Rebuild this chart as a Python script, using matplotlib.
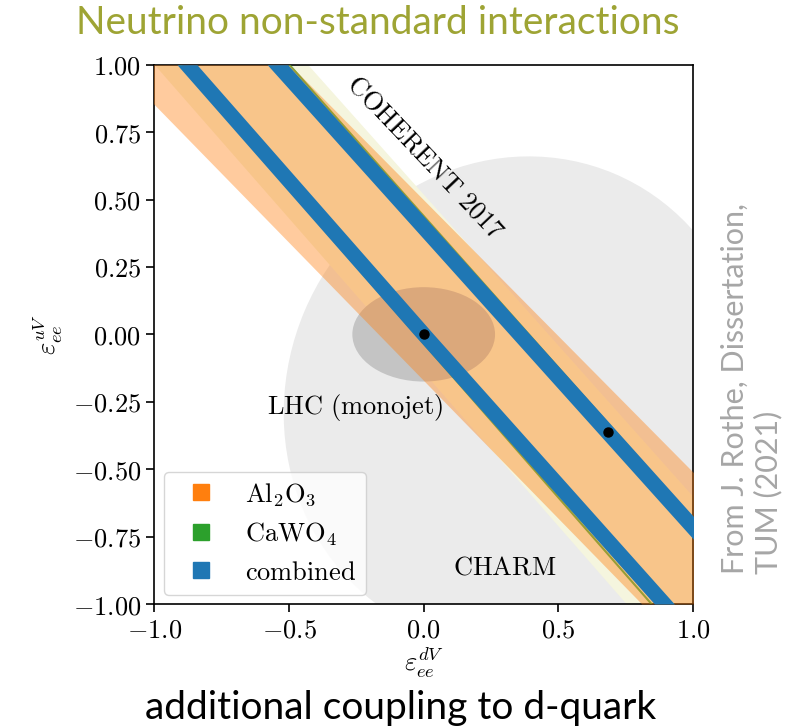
import matplotlib

matplotlib.use("Agg")
import matplotlib.pyplot as plt  # noqa: E402
from matplotlib.patches import Ellipse  # noqa: E402
from matplotlib.lines import Line2D  # noqa: E402
from matplotlib.ticker import FuncFormatter  # noqa: E402

plt.rcParams["mathtext.fontset"] = "cm"

y_band = [1.0, -1.0]
al2o3_left = [-1.145, 0.81]
al2o3_right = [-0.497, 1.485]
coherent_left = [-1.0, 0.753]
coherent_right = [-0.43, 1.356]
cawo4_left = [-0.905, 0.846]
cawo4_right = [-0.499, 1.28]

# combined: two narrow stripes
y_stripe1 = [1.0, 0.0, -1.0]
stripe1_left = [-0.916, -0.037, 0.857]
stripe1_right = [-0.842, 0.037, 0.931]
stripe2_left = [-0.581, 1.218]
stripe2_right = [-0.505, 1.294]

# best-fit points
best_x = [0.0, 0.683]
best_y = [0.0, -0.363]

# other experiments (ellipses: centre, width, height, angle)
charm_xy, charm_w, charm_h, charm_ang = (0.35, -0.25), 1.722, 1.837, -22.9
lhc_xy, lhc_w, lhc_h = (0.0, 0.0), 0.53, 0.35

x_ticks = [-1.0, -0.5, 0.0, 0.5, 1.0]
y_ticks = [-1.0, -0.75, -0.5, -0.25, 0.0, 0.25, 0.5, 0.75, 1.0]

fig = plt.figure(figsize=(7.88, 7.28), dpi=100)
ax = fig.add_axes([0.196, 0.1703, 0.6834, 0.7408])

ax.add_patch(Ellipse(charm_xy, charm_w, charm_h, angle=charm_ang,
                     color="#ebebeb", lw=0, zorder=1))
ax.fill_betweenx(y_band, coherent_left, coherent_right, color="#f5f5de",
                 lw=0, zorder=2)
ax.add_patch(Ellipse(lhc_xy, lhc_w, lhc_h, color="#c4c4c4", lw=0, zorder=3))
ax.plot(cawo4_left, y_band, color="#2ca02c", lw=1.5, alpha=0.8, zorder=3.5)
ax.plot(cawo4_right, y_band, color="#2ca02c", lw=1.5, alpha=0.8, zorder=3.5)
ax.fill_betweenx(y_band, al2o3_left, al2o3_right, color="#ff7f0e",
                 alpha=0.4, lw=0, zorder=4)
ax.fill_betweenx(y_stripe1, stripe1_left, stripe1_right, color="#1f77b4",
                 lw=0, zorder=5)
ax.fill_betweenx(y_band, stripe2_left, stripe2_right, color="#1f77b4",
                 lw=0, zorder=5)
ax.plot(best_x, best_y, "o", color="k", ms=6.5, zorder=6)

fs = 19
ax.text(0.004, 0.657, r"$\mathrm{COHERENT\ 2017}$", rotation=-46.5,
        ha="center", va="center", fontsize=fs, zorder=7)
ax.text(-0.256, -0.27, r"$\mathrm{LHC\ (monojet)}$", ha="center",
        va="center", fontsize=fs, zorder=7)
ax.text(0.301, -0.864, r"$\mathrm{CHARM}$", ha="center", va="center",
        fontsize=fs, zorder=7)

ax.set_xlim(-1, 1)
ax.set_ylim(-1, 1)
ax.set_xticks(x_ticks)
ax.set_yticks(y_ticks)
ax.xaxis.set_major_formatter(FuncFormatter(lambda v, p: f"${v:.1f}$"))
ax.yaxis.set_major_formatter(FuncFormatter(lambda v, p: f"${v:.2f}$"))
ax.tick_params(labelsize=fs, length=6, width=1.2)
for s in ax.spines.values():
    s.set_linewidth(1.2)
ax.set_xlabel(r"$\varepsilon_{ee}^{dV}$", fontsize=fs, labelpad=2)
ax.set_ylabel(r"$\varepsilon_{ee}^{uV}$", fontsize=fs, labelpad=6)

handles = [
    Line2D([], [], marker="s", ls="none", color="#ff7f0e", ms=12),
    Line2D([], [], marker="s", ls="none", color="#2ca02c", ms=12),
    Line2D([], [], marker="s", ls="none", color="#1f77b4", ms=12),
]
labels = [r"$\mathrm{Al_2O_3}$", r"$\mathrm{CaWO_4}$", r"$\mathrm{combined}$"]
leg = ax.legend(handles, labels, loc="lower left", fontsize=fs,
                handlelength=2.1, handletextpad=0.65, labelspacing=0.45,
                borderaxespad=0.35, borderpad=0.35)
leg.set_zorder(10)

fig.text(0.48, 0.968, "Neutrino non-standard interactions", color="#9ea434",
         fontsize=28, family="Lato", ha="center", va="center")
fig.text(0.508, 0.027, "additional coupling to d-quark", color="black",
         fontsize=28, family="Lato", ha="center", va="center")
fig.text(0.9535, 0.467, "From J. Rothe, Dissertation,\nTUM (2021)",
         color="#a6a6a6", fontsize=22, family="Lato", rotation=90,
         ha="center", va="center", multialignment="left")

fig.savefig("out.png", dpi=100)
